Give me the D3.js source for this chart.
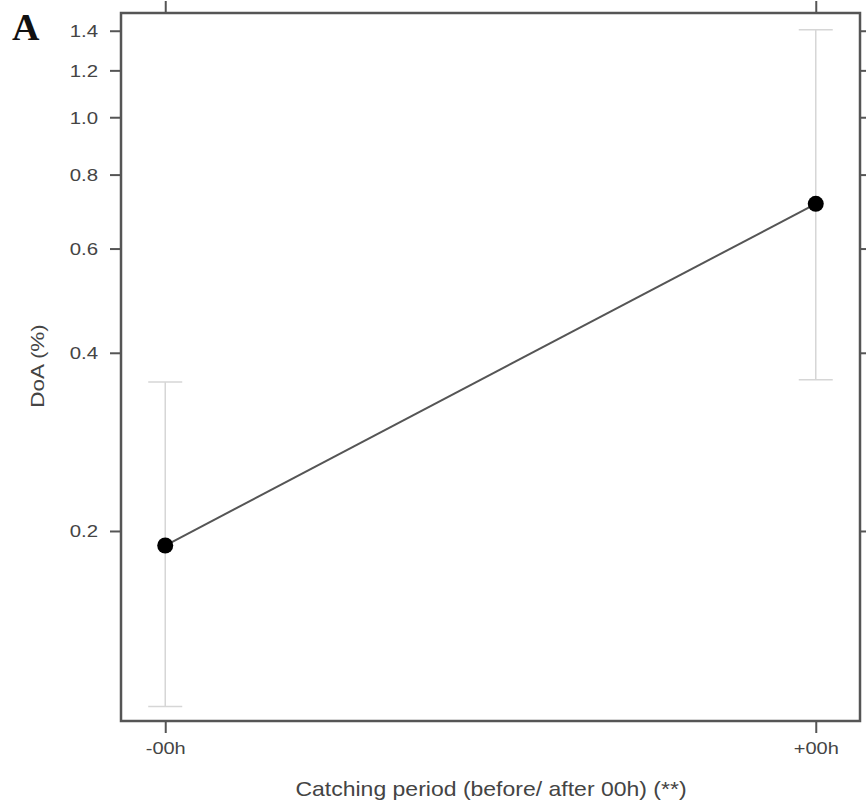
<!DOCTYPE html>
<html>
<head>
<meta charset="utf-8">
<script src="https://cdn.jsdelivr.net/npm/d3@7"></script>
<style>
  body { margin: 0; background: #fff; }
</style>
</head>
<body>
<div id="chart"></div>
<script>

var svgWidth = 866;
var svgHeight = 804;

var margin = { top: 13, right: 6, bottom: 83, left: 121 };
var width = svgWidth - margin.left - margin.right;
var height = svgHeight - margin.top - margin.bottom;

// data
var periods = ["-00h", "+00h"];
var doa = [0.189, 0.714];
var doaLow = [0.101, 0.360];
var doaHigh = [0.357, 1.405];
var yTicks = [0.2, 0.4, 0.6, 0.8, 1.0, 1.2, 1.4];

var sansFont = "'Liberation Sans', Arial, sans-serif";
var stretch = 1.2; // the original type is drawn wide

var svg = d3.select("#chart")
  .append("svg")
  .attr("width", svgWidth)
  .attr("height", svgHeight);

var chartGroup = svg.append("g")
  .attr("transform", `translate(${margin.left}, ${margin.top})`);

var xScale = d3.scalePoint()
  .domain(periods)
  .range([0, width])
  .padding(0.068);

var yScale = d3.scaleLog()
  .domain([0.0955, 1.5])
  .range([height, 0]);

var axisColor = "#555";

// axes: ticks on all four sides, labels only bottom and left
var bottomAxis = d3.axisBottom(xScale).tickSize(12).tickPadding(10);
var topAxis = d3.axisTop(xScale).tickSize(12).tickFormat("");
var leftAxis = d3.axisLeft(yScale).tickValues(yTicks).tickSize(11)
  .tickFormat(d3.format(".1f"));
var rightAxis = d3.axisRight(yScale).tickValues(yTicks).tickSize(7).tickFormat("");

function styleAxis(g) {
  g.attr("font-family", sansFont);
  g.select(".domain").remove();
  g.selectAll(".tick line").attr("stroke", axisColor).attr("stroke-width", 2);
  g.selectAll(".tick text").attr("fill", "#444");
}

chartGroup.append("g").attr("transform", `translate(0, ${height})`).call(bottomAxis).call(styleAxis)
  .selectAll(".tick text")
  .attr("font-size", "16px")
  .attr("transform", "scale(1.25,1)");
chartGroup.append("g").call(topAxis).call(styleAxis);
chartGroup.append("g").call(leftAxis).call(styleAxis)
  .selectAll(".tick text")
  .attr("font-size", "17px")
  .attr("x", -23 / stretch)
  .attr("dy", "0.35em")
  .attr("transform", `scale(${stretch},1)`);
chartGroup.append("g").attr("transform", `translate(${width}, 0)`).call(rightAxis).call(styleAxis);

// frame
chartGroup.append("rect")
  .attr("width", width)
  .attr("height", height)
  .attr("fill", "none")
  .attr("stroke", axisColor)
  .attr("stroke-width", 2.5);

var rows = periods.map(function(p, i) {
  return { period: p, value: doa[i], low: doaLow[i], high: doaHigh[i] };
});

// error bars
var errColor = "#d6d6d6";
var capHalf = 17;
var errGroup = chartGroup.selectAll(".err").data(rows).enter().append("g").attr("class", "err");
errGroup.append("line")
  .attr("x1", d => xScale(d.period)).attr("x2", d => xScale(d.period))
  .attr("y1", d => yScale(d.low)).attr("y2", d => yScale(d.high))
  .attr("stroke", errColor).attr("stroke-width", 1.5);
errGroup.append("line")
  .attr("x1", d => xScale(d.period) - capHalf).attr("x2", d => xScale(d.period) + capHalf)
  .attr("y1", d => yScale(d.low)).attr("y2", d => yScale(d.low))
  .attr("stroke", errColor).attr("stroke-width", 1.5);
errGroup.append("line")
  .attr("x1", d => xScale(d.period) - capHalf).attr("x2", d => xScale(d.period) + capHalf)
  .attr("y1", d => yScale(d.high)).attr("y2", d => yScale(d.high))
  .attr("stroke", errColor).attr("stroke-width", 1.5);

// line
var line = d3.line()
  .x(d => xScale(d.period))
  .y(d => yScale(d.value));

chartGroup.append("path")
  .datum(rows)
  .attr("d", line)
  .attr("fill", "none")
  .attr("stroke", "#555")
  .attr("stroke-width", 2);

// points
chartGroup.selectAll("circle")
  .data(rows)
  .enter()
  .append("circle")
  .attr("cx", d => xScale(d.period))
  .attr("cy", d => yScale(d.value))
  .attr("r", 8)
  .attr("fill", "#000");

// axis titles
svg.append("text")
  .attr("transform", "translate(44, 366) rotate(-90) scale(1.25,1)")
  .attr("text-anchor", "middle")
  .attr("font-family", sansFont)
  .attr("fill", "#444")
  .attr("font-size", "18px")
  .text("DoA (%)");

svg.append("text")
  .attr("transform", "translate(491, 796) scale(1.15,1)")
  .attr("text-anchor", "middle")
  .attr("font-family", sansFont)
  .attr("fill", "#444")
  .attr("font-size", "20px")
  .text("Catching period (before/ after 00h) (**)");

// panel letter
svg.append("text")
  .attr("x", 12)
  .attr("y", 40)
  .attr("font-family", "'Liberation Serif', 'Times New Roman', serif")
  .attr("font-weight", "bold")
  .attr("font-size", "38px")
  .attr("fill", "#111")
  .text("A");

</script>
</body>
</html>
